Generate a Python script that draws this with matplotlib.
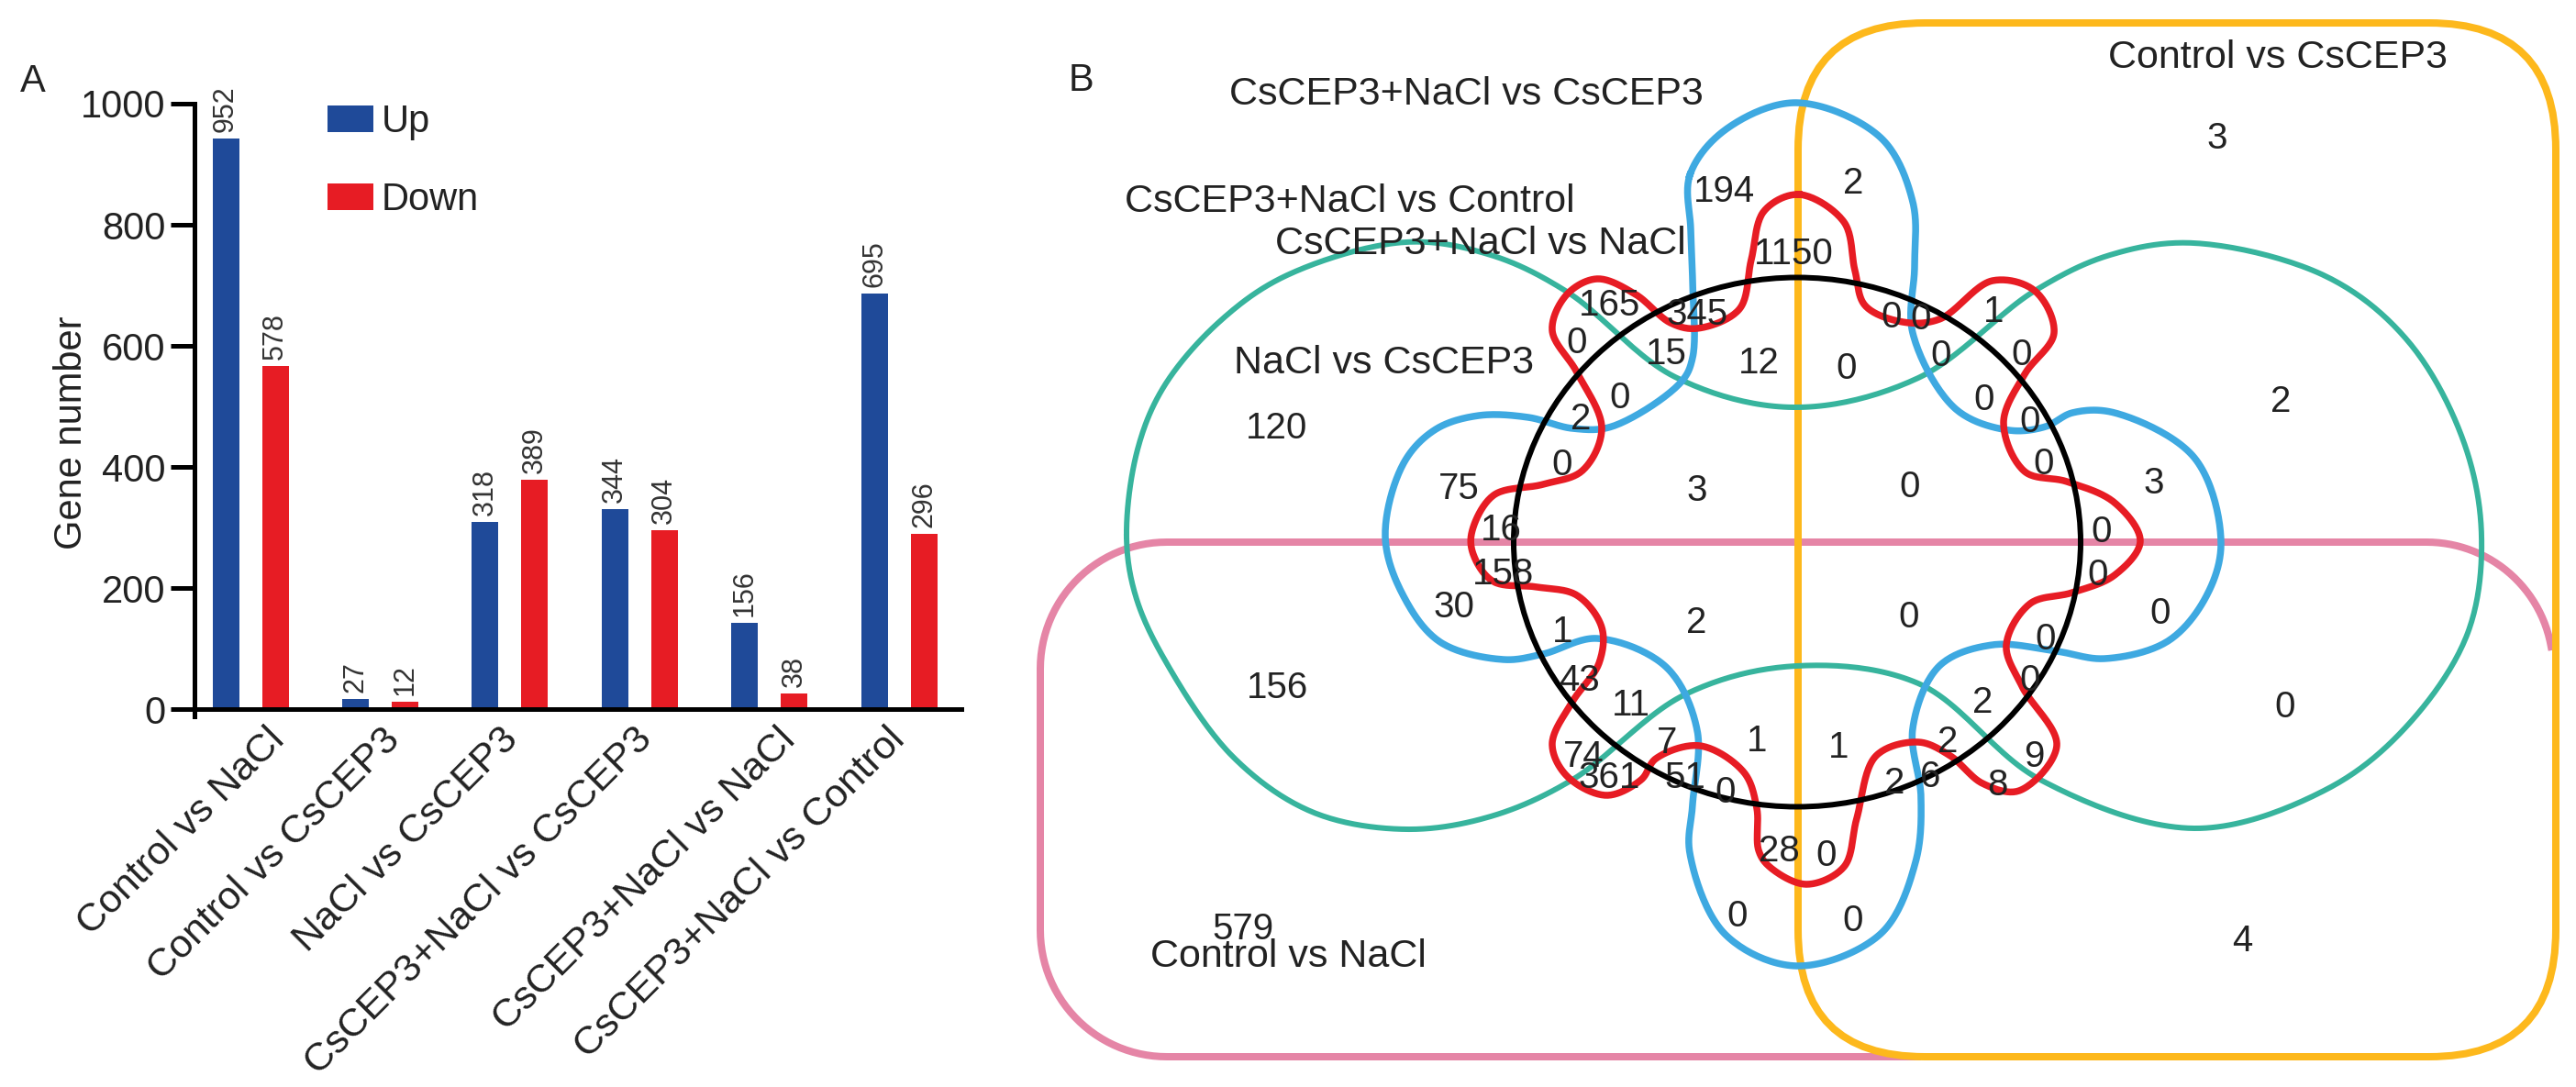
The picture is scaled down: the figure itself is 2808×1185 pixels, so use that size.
import matplotlib
matplotlib.use("Agg")
import matplotlib.pyplot as plt
import numpy as np
from matplotlib.patches import Ellipse, FancyBboxPatch

plt.rcParams['font.family'] = ['Liberation Sans', 'DejaVu Sans']

W, H = 2808, 1185
PX = 72 / 100  # points per pixel at dpi 100

# panel A
comparisons = ["Control vs NaCl", "Control vs CsCEP3", "NaCl vs CsCEP3",
               "CsCEP3+NaCl vs CsCEP3", "CsCEP3+NaCl vs NaCl", "CsCEP3+NaCl vs Control"]
up_heights = [943, 17, 309, 331, 143, 686]
down_heights = [567, 12, 379, 295, 26, 290]
up_labels = [952, 27, 318, 344, 156, 695]
down_labels = [578, 12, 389, 304, 38, 296]
label_shift = [17, 1, -11, -7, 8, -14]

# panel B
set_names = ["CsCEP3+NaCl vs CsCEP3", "CsCEP3+NaCl vs Control", "CsCEP3+NaCl vs NaCl",
             "NaCl vs CsCEP3", "Control vs CsCEP3", "Control vs NaCl"]
set_name_pos = [(1598, 103), (1471, 220), (1614, 266), (1509, 396), (2483, 63), (1404, 1043)]

venn_counts = [194, 1150, 2, 3, 165, 345, 0, 15, 12, 0, 2, 0, 120, 75, 0, 3, 16, 158, 30, 1, 2, 156,
               43, 11, 7, 1, 74, 361, 51, 0, 28, 0, 579, 0, 0, 1, 0, 0, 0, 0, 2, 0, 0, 3, 0, 0, 0, 0,
               0, 0, 0, 2, 1, 2, 9, 2, 6, 8, 0, 0, 4]
venn_count_pos = [(1879, 209), (1955, 277), (2020, 200), (2417, 151), (1754, 333), (1850, 343),
                  (1719, 374), (1816, 386), (1917, 396), (2013, 402), (1723, 457), (1766, 434),
                  (1392, 467), (1590, 533), (1703, 507), (1850, 535), (1636, 578), (1638, 626),
                  (1585, 662), (1703, 689), (1849, 679), (1392, 750), (1722, 742), (1778, 769),
                  (1817, 810), (1915, 808), (1726, 825), (1754, 848), (1837, 848), (1881, 864),
                  (1939, 928), (1894, 999), (1355, 1013), (2062, 346), (2094, 348), (2173, 340),
                  (2116, 388), (2204, 387), (2163, 436), (2213, 460), (2486, 438), (2228, 506),
                  (2082, 531), (2348, 527), (2291, 580), (2287, 627), (2081, 673), (2355, 669),
                  (2230, 697), (2213, 742), (2491, 771), (2161, 766), (2004, 815), (2123, 809),
                  (2217, 825), (2065, 854), (2104, 847), (2177, 856), (1991, 933), (2020, 1004),
                  (2444, 1026)]

# outlines of the venn sets
green_outline = [(1228, 585), (1240, 490), (1269, 421), (1330, 350), (1403, 300), (1532, 264), (1625, 278),
                 (1708, 318), (1826, 411), (1955, 444), (2091, 412), (2218, 317), (2300, 278), (2392, 265),
                 (2537, 302), (2625, 372), (2685, 480), (2705, 584), (2690, 690), (2625, 790), (2537, 860),
                 (2392, 903), (2224, 850), (2091, 745), (1958, 726), (1837, 757), (1714, 850), (1625, 890),
                 (1532, 904), (1430, 885), (1344, 825), (1270, 720), (1238, 650)]
blue_outline = [(1842, 191), (1843, 250), (1845, 306), (1845, 390), (1832, 417), (1757, 465), (1714, 467),
                (1666, 455), (1612, 453), (1565, 468), (1530, 505), (1510, 585), (1530, 650), (1570, 700),
                (1639, 719), (1682, 713), (1741, 696), (1816, 727), (1850, 796), (1845, 877), (1842, 930),
                (1880, 1018), (1958, 1053), (2050, 1018), (2088, 940), (2094, 869), (2085, 794),
                (2114, 726), (2172, 703), (2242, 710), (2294, 718), (2363, 699), (2405, 650), (2421, 590),
                (2392, 499), (2305, 450), (2259, 450), (2230, 465), (2190, 469), (2132, 446),
                (2085, 363), (2087, 290), (2085, 220), (2050, 150), (1958, 112), (1880, 142)]
red_outline = [(1961, 212), (2010, 242), (2022, 295), (2033, 333), (2074, 351), (2114, 348),
               (2172, 306), (2218, 317), (2239, 363), (2207, 408), (2184, 461), (2207, 514),
               (2253, 525), (2305, 548), (2333, 590), (2305, 627), (2259, 646), (2213, 658),
               (2187, 703), (2204, 748), (2242, 813), (2201, 862), (2161, 854), (2126, 824),
               (2091, 809), (2045, 824), (2024, 892), (2010, 945), (1969, 964), (1929, 945),
               (1917, 927), (1915, 881), (1901, 842), (1853, 813), (1805, 827), (1789, 850),
               (1751, 867), (1708, 846), (1692, 811), (1714, 765), (1743, 723), (1746, 684),
               (1719, 649), (1676, 640), (1628, 634), (1607, 607), (1604, 582), (1628, 540),
               (1682, 528), (1725, 513), (1746, 467), (1719, 406), (1692, 360), (1708, 321),
               (1741, 304), (1783, 321), (1821, 352), (1850, 358), (1896, 337), (1909, 283),
               (1923, 230)]

BLUE_BAR = "#1F4A99"
RED_BAR = "#E71C24"
PINK = "#E585A6"
ORANGE = "#FDB81C"
GREEN = "#37B49D"
SKY = "#3EA9E1"
RED = "#E71C24"
TEXT = "#222222"


def smooth_closed(points, steps=24):
    # closed centripetal Hermite spline through the points, copes with uneven spacing
    p = np.array(points, dtype=float)
    n = len(p)
    d = np.sqrt(np.linalg.norm(np.roll(p, -1, axis=0) - p, axis=1))
    m = np.zeros_like(p)
    for i in range(n):
        d0, d1 = d[i - 1], d[i]
        s0 = (p[i] - p[i - 1]) / d0
        s1 = (p[(i + 1) % n] - p[i]) / d1
        m[i] = (s1 * d0 + s0 * d1) / (d0 + d1)
    t = np.linspace(0, 1, steps, endpoint=False)[:, None]
    out = []
    for i in range(n):
        j = (i + 1) % n
        out.append((2 * t ** 3 - 3 * t ** 2 + 1) * p[i] + (t ** 3 - 2 * t ** 2 + t) * d[i] * m[i]
                   + (-2 * t ** 3 + 3 * t ** 2) * p[j] + (t ** 3 - t ** 2) * d[i] * m[j])
    out = np.vstack(out)
    return np.vstack([out, out[0]])


def arc(cx, cy, r, a0, a1):
    a = np.radians(np.linspace(a0, a1, 30))
    return np.column_stack([cx + r * np.cos(a), cy + r * np.sin(a)])


def draw_bars(fig):
    left, right, top, bottom = 212, 1048, 113, 781
    ax = fig.add_axes([left / W, 1 - bottom / H, (right - left) / W, (bottom - top) / H])
    x = np.arange(len(comparisons))
    step = 141.4
    bar_w = 29 / step
    off = 27 / step
    up = ax.bar(x - off, up_heights, bar_w, color=BLUE_BAR, label="Up")
    down = ax.bar(x + off, down_heights, bar_w, color=RED_BAR, label="Down")
    ax.bar_label(up, labels=[str(v) for v in up_labels], rotation=90, padding=5, fontsize=22, color="#333333")
    ax.bar_label(down, labels=[str(v) for v in down_labels], rotation=90, padding=5, fontsize=22, color="#333333")

    ax.set_xlim((left - 273) / step, (right - 273) / step)
    ax.set_ylim(-12, 1000)
    ax.set_yticks([0, 200, 400, 600, 800, 1000])
    ax.tick_params(axis="y", length=26 * PX, width=3.6, labelsize=30, pad=4, labelcolor=TEXT)
    ax.set_xticks([])
    for side in ["top", "right"]:
        ax.spines[side].set_visible(False)
    ax.spines["left"].set_linewidth(3.6)
    ax.spines["bottom"].set_linewidth(3.6)
    ax.spines["bottom"].set_position(("data", 0))
    ax.set_ylabel("Gene number", fontsize=30, color=TEXT, va="center")
    ax.yaxis.set_label_coords((78 - left) / (right - left), (bottom - 472) / (bottom - top))

    for i, name in enumerate(comparisons):
        ax.annotate(name, xy=(i, 0), xytext=(label_shift[i] * PX, -13 * PX), textcoords="offset points",
                    rotation=45, ha="right", va="top", rotation_mode="anchor",
                    fontsize=31, color=TEXT, annotation_clip=False)

    ax.legend(loc="upper left", bbox_to_anchor=((357 - left) / (right - left), 1.0), frameon=False,
              fontsize=30, handlelength=1.2, handleheight=0.7, handletextpad=0.2,
              labelspacing=1.08, borderpad=0, borderaxespad=0, labelcolor=TEXT)


def draw_venn(fig):
    ax = fig.add_axes([0, 0, 1, 1])
    ax.set_xlim(0, W)
    ax.set_ylim(H, 0)
    ax.axis("off")
    ax.patch.set_alpha(0)

    # pink box is open at the lower right, that part runs behind the orange one
    x0, y0, x1, y1, r = 1134, 591, 2783, 1152, 138
    pink = np.vstack([[[2090, y1]], arc(x0 + r, y1 - r, r, 90, 180), arc(x0 + r, y0 + r, r, 180, 270),
                      arc(x1 - r, y0 + r, r, 270, 350)])
    ax.plot(pink[:, 0], pink[:, 1], color=PINK, lw=8 * PX, zorder=1)

    x0, y0, x1, y1 = 1960, 25, 2786, 1152
    ax.add_patch(FancyBboxPatch((x0 + r, y0 + r), x1 - x0 - 2 * r, y1 - y0 - 2 * r,
                                boxstyle=f"round,pad={r},rounding_size={r}",
                                fill=False, ec=ORANGE, lw=8 * PX, zorder=1.5))

    for pts, col, lw in [(green_outline, GREEN, 6), (blue_outline, SKY, 7.5), (red_outline, RED, 7.5)]:
        c = smooth_closed(pts)
        ax.plot(c[:, 0], c[:, 1], color=col, lw=lw * PX, zorder=2, solid_joinstyle="round")

    ax.add_patch(Ellipse((1959, 591), 618, 577, fill=False, ec="black", lw=6 * PX, zorder=3))

    for name, (x, y) in zip(set_names, set_name_pos):
        ax.text(x, y, name, ha="center", va="center", fontsize=31, color=TEXT, zorder=4)
    for v, (x, y) in zip(venn_counts, venn_count_pos):
        ax.text(x, y, str(v), ha="center", va="center", fontsize=29, color=TEXT, zorder=4)

    ax.text(36, 89, "A", ha="center", va="center", fontsize=30, color=TEXT)
    ax.text(1178, 88, "B", ha="center", va="center", fontsize=30, color=TEXT)


fig = plt.figure(figsize=(W / 100, H / 100), dpi=100)
draw_venn(fig)
draw_bars(fig)
fig.savefig("out.png", dpi=100)
